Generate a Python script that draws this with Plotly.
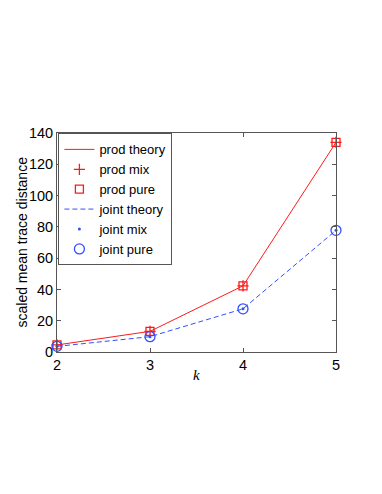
import plotly.graph_objects as go

k = [2, 3, 4, 5]
prod_theory = [4.5, 13.2, 42.3, 134.0]
prod_mix = [4.5, 13.2, 42.3, 134.0]
prod_pure = [4.5, 13.2, 42.3, 134.0]
joint_theory = [3.6, 9.8, 27.6, 77.8]
joint_mix = [3.6, 9.8, 27.6, 77.8]
joint_pure = [3.6, 9.8, 27.6, 77.8]
y_ticks = [0, 20, 40, 60, 80, 100, 120, 140]

red = "#ff1a1a"
blue = "#3050ff"

fig = go.Figure()
fig.add_trace(go.Scatter(x=k, y=prod_theory, mode="lines", name="prod theory",
                         line=dict(color=red, width=1), cliponaxis=False))
fig.add_trace(go.Scatter(x=k, y=prod_mix, mode="markers", name="prod mix",
                         marker=dict(symbol="cross-thin", size=8, color=red,
                                     line=dict(color=red, width=1.3)), cliponaxis=False))
fig.add_trace(go.Scatter(x=k, y=prod_pure, mode="markers", name="prod pure",
                         marker=dict(symbol="square-open", size=8, color=red,
                                     line=dict(width=1.3)), cliponaxis=False))
fig.add_trace(go.Scatter(x=k, y=joint_theory, mode="lines", name="joint theory",
                         line=dict(color=blue, width=1, dash="5px,3px"), cliponaxis=False))
fig.add_trace(go.Scatter(x=k, y=joint_mix, mode="markers", name="joint mix",
                         marker=dict(symbol="circle", size=3, color=blue), cliponaxis=False))
fig.add_trace(go.Scatter(x=k, y=joint_pure, mode="markers", name="joint pure",
                         marker=dict(symbol="circle-open", size=10, color=blue,
                                     line=dict(width=1.3)), cliponaxis=False))

axis_common = dict(showgrid=False, zeroline=False, showline=True, mirror="ticks",
                   linecolor="#555555", linewidth=1, ticks="inside", ticklen=4,
                   tickcolor="#555555", tickfont=dict(size=14.5, color="black"),
                   automargin=False)

# page body has an 8px default margin, so the figure is shrunk by that amount
fig.update_layout(
    width=374, height=486,
    margin=dict(l=49, r=46, t=125, b=142),
    paper_bgcolor="white", plot_bgcolor="white",
    font=dict(family="Liberation Sans, Arial, sans-serif", color="black"),
    xaxis=dict(range=[2, 5], tickvals=k, **axis_common),
    yaxis=dict(range=[0, 140], tickvals=y_ticks, **axis_common),
    legend=dict(x=0.005, y=0.998, xanchor="left", yanchor="top", bgcolor="white",
                bordercolor="#555555", borderwidth=1, font=dict(size=13),
                itemwidth=30, tracegroupgap=0),
    showlegend=True,
    annotations=[
        dict(text="<i>k</i>", xref="x", yref="paper", x=3.5, y=0,
             xanchor="center", yanchor="top", yshift=-13, showarrow=False,
             font=dict(size=15, family="Liberation Serif, serif")),
        dict(text="scaled mean trace distance", xref="paper", yref="paper",
             x=0, y=0.5, xanchor="right", yanchor="middle", xshift=-26,
             textangle=-90, showarrow=False, font=dict(size=14)),
    ],
)

fig.write_html("out.html")
